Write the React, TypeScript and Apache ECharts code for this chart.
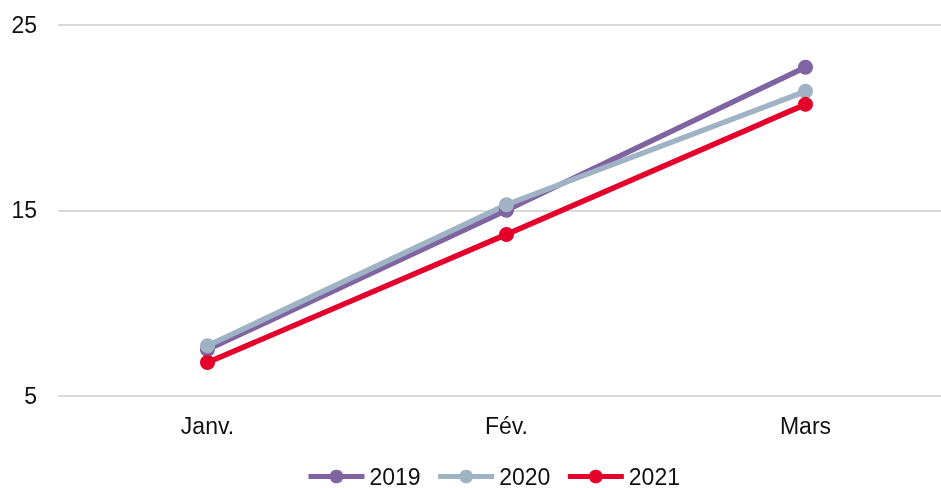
import React, { useEffect, useRef } from "react";
import * as echarts from "echarts";

const categories = ["Janv.", "Fév.", "Mars"];
const seriesNames = ["2019", "2020", "2021"];
const values2019 = [7.5, 15.0, 22.7];
const values2020 = [7.7, 15.3, 21.4];
const values2021 = [6.8, 13.7, 20.7];
const colors = ["#8064A2", "#9FB3C5", "#E4002B"];
const yTicks = { min: 5, max: 25, interval: 10 };

export default function App() {
  const ref = useRef<HTMLDivElement>(null);
  useEffect(() => {
    if (!ref.current) return;
    const chart = echarts.init(ref.current, undefined, { renderer: "svg" });
    const font = "'Liberation Sans', Arial, Helvetica, sans-serif";
    const data = [values2019, values2020, values2021];
    chart.setOption({
      animation: false,
      textStyle: { fontFamily: font },
      grid: { left: 58, right: 0, top: 24.5, bottom: 92, containLabel: false },
      legend: {
        top: 460,
        left: 301,
        itemWidth: 56,
        itemHeight: 17,
        itemGap: 15,
        lineStyle: { width: 5 },
        textStyle: { fontSize: 23, color: "#111", fontFamily: font },
        data: seriesNames,
      },
      xAxis: {
        type: "category",
        data: categories,
        boundaryGap: true,
        axisLine: { show: false },
        axisTick: { show: false },
        axisLabel: { fontSize: 23, color: "#111", margin: 18, fontFamily: font },
      },
      yAxis: {
        type: "value",
        min: yTicks.min,
        max: yTicks.max,
        interval: yTicks.interval,
        axisLine: { show: false },
        axisTick: { show: false },
        axisLabel: { fontSize: 23, color: "#111", margin: 21, fontFamily: font },
        splitLine: { lineStyle: { color: "#D9D9D9", width: 2 } },
      },
      series: seriesNames.map((name, i) => ({
        name,
        type: "line",
        data: data[i],
        symbol: "circle",
        symbolSize: 15,
        color: colors[i],
        lineStyle: { width: 5.5, color: colors[i] },
        itemStyle: { color: colors[i] },
      })),
    });
    return () => chart.dispose();
  }, []);
  return (
    <div style={{ position: "fixed", left: 0, top: 0, width: 941, height: 488, overflow: "hidden" }}>
      <div ref={ref} style={{ width: 955, height: 488 }} />
    </div>
  );
}
